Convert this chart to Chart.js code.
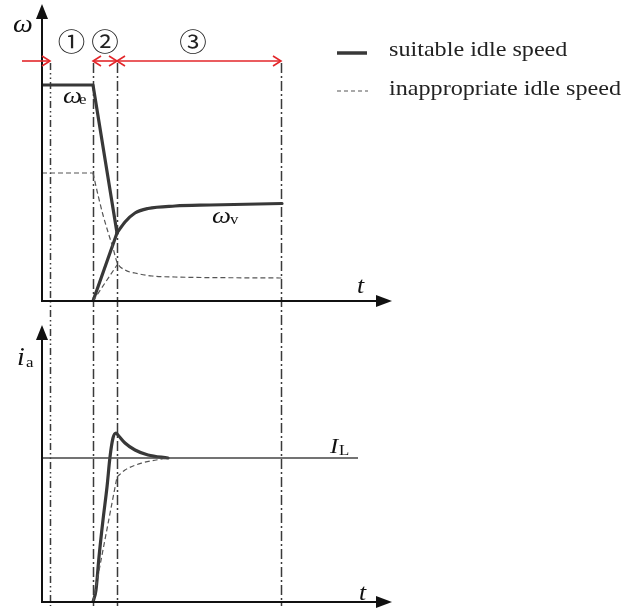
<!DOCTYPE html>
<html><head><meta charset="utf-8">
<script src="https://cdn.jsdelivr.net/npm/chart.js@4/dist/chart.umd.min.js"></script>
<style>
html,body{margin:0;padding:0;background:#fff;overflow:hidden}
#wrap{position:relative;width:643px;height:615px;background:#fff}
canvas{position:absolute;left:0;top:0}
</style></head>
<body><div id="wrap"><canvas id="topc" width="643" height="615"></canvas><canvas id="botc" width="643" height="615"></canvas></div>
<script>
// ---- data (abstract time / value units) ----
const phaseBounds = [8, 51, 75, 239];
const phaseLabels = ['①', '②', '③'];
const omegaE = [[0,216],[51,216],[75,68]];
const omegaVRise = [[51,0],[75,68]];
const omegaVSettle = [[75,68],[83,79],[93,88],[106,92.5],[133,95],[168,96],[240,97.5]];
const omegaEPoorHold = [[0,128],[51,128]];
const omegaEPoorFall = [[51,128],[56,106],[61,86],[66,69],[71,53],[75,39],[83,31],[93,28],[110,25],[133,24],[240,23]];
const omegaVPoor = [[51,0],[75,36]];
const iaSuitable = [[51,0],[54,12],[57,45],[61,82],[65,115],[68,145],[71,164],[74,169],[76,167],[83,159],[93,152],[106,147],[126,144]];
const iaPoorRise = [[51,0],[75,125]];
const iaPoorSettle = [[75,125],[83,132],[100,139],[126,144]];
const loadCurrent = [[0,144],[316,144]];
const legendLabels = ['suitable idle speed', 'inappropriate idle speed'];

const SOLID = '#383838', DASH = '#555';
const pts = a => a.map(p => ({x:p[0], y:p[1]}));
function solid(a, mono){ return {data:pts(a), borderColor:SOLID, borderWidth:3.2, pointRadius:0, tension:0, cubicInterpolationMode: mono?'monotone':'default', borderCapStyle:'round', borderJoinStyle:'round', fill:false}; }
function dashed(a, mono){ return {data:pts(a), borderColor:DASH, borderWidth:1.2, borderDash:[5,3], pointRadius:0, tension:0, cubicInterpolationMode: mono?'monotone':'default', fill:false}; }

function opts(padTop, padBottom, yMax){
  return {responsive:false, animation:false, devicePixelRatio:1,
    layout:{padding:{left:42,right:251,top:padTop,bottom:padBottom}},
    plugins:{legend:{display:false}, tooltip:{enabled:false}},
    scales:{x:{type:'linear',min:0,max:350,display:false}, y:{type:'linear',min:0,max:yMax,display:false}},
    elements:{point:{radius:0}}};
}

function txt(ctx, s, x, y, font, hs, color){
  ctx.save(); ctx.font = font; ctx.fillStyle = color || '#111'; ctx.textBaseline = 'alphabetic';
  ctx.translate(x, y); ctx.scale(hs || 1.12, 1); ctx.fillText(s, 0, 0); ctx.restore();
}
function axes(ctx, a){
  ctx.save(); ctx.strokeStyle = '#111'; ctx.fillStyle = '#111'; ctx.lineWidth = 2; ctx.setLineDash([]);
  ctx.beginPath(); ctx.moveTo(a.left, a.bottom + 1); ctx.lineTo(a.left, a.top + 12); ctx.stroke();
  ctx.beginPath(); ctx.moveTo(a.left, a.top); ctx.lineTo(a.left - 6, a.top + 15); ctx.lineTo(a.left + 6, a.top + 15); ctx.closePath(); ctx.fill();
  ctx.beginPath(); ctx.moveTo(a.left - 1, a.bottom); ctx.lineTo(a.right - 12, a.bottom); ctx.stroke();
  ctx.beginPath(); ctx.moveTo(a.right, a.bottom); ctx.lineTo(a.right - 16, a.bottom - 6); ctx.lineTo(a.right - 16, a.bottom + 6); ctx.closePath(); ctx.fill();
  ctx.restore();
}
function head(ctx, x, y, dir){
  ctx.beginPath(); ctx.moveTo(x - dir*8, y - 5); ctx.lineTo(x, y); ctx.lineTo(x - dir*8, y + 5); ctx.stroke();
}
const SERIF = '"Liberation Serif","Times New Roman",serif';

const topPlugin = {
  id:'topDeco',
  beforeDatasetsDraw(chart){
    const ctx = chart.ctx, xs = chart.scales.x;
    ctx.save(); ctx.strokeStyle = '#3a3a3a'; ctx.lineWidth = 1.5;
    phaseBounds.forEach((b, i) => {
      const x = Math.round(xs.getPixelForValue(b)) + 0.5;
      ctx.setLineDash(i === 0 ? [7,3,1.5,3,1.5,3] : [10,3,2,3]);
      ctx.beginPath(); ctx.moveTo(x, 63); ctx.lineTo(x, 606); ctx.stroke();
    });
    ctx.restore();
  },
  afterDraw(chart){
    const ctx = chart.ctx, a = chart.chartArea, xs = chart.scales.x;
    axes(ctx, a);
    // phase arrows
    const px = phaseBounds.map(b => xs.getPixelForValue(b));
    const ay = 61;
    ctx.save(); ctx.strokeStyle = '#e3262a'; ctx.lineWidth = 1.6; ctx.setLineDash([]);
    ctx.beginPath(); ctx.moveTo(a.left - 20, ay); ctx.lineTo(px[0], ay); ctx.stroke(); head(ctx, px[0], ay, 1);
    for (let i = 1; i < 3; i++){
      ctx.beginPath(); ctx.moveTo(px[i], ay); ctx.lineTo(px[i+1], ay); ctx.stroke();
      head(ctx, px[i], ay, -1); head(ctx, px[i+1], ay, 1);
    }
    ctx.restore();
    // circled phase numbers
    ctx.save(); ctx.font = '25px "Noto Sans CJK SC","DejaVu Sans",sans-serif'; ctx.fillStyle = '#222';
    ctx.textAlign = 'center'; ctx.textBaseline = 'middle';
    phaseLabels.forEach((s, i) => {
      const cx = (px[i] + px[i+1]) / 2 - (i === 2 ? 6 : 0);
      ctx.save(); ctx.translate(cx, 41); ctx.scale(1.1, 1); ctx.fillText(s, 0, 0); ctx.restore();
    });
    ctx.restore();
    // symbols
    txt(ctx, 'ω', 13, 32, 'italic 25px ' + SERIF, 1.12);
    txt(ctx, 'ω', 63, 103, 'italic 24px ' + SERIF, 1.12);
    txt(ctx, 'e', 79, 104, '15px ' + SERIF, 1.12);
    txt(ctx, 'ω', 212, 223, 'italic 24px ' + SERIF, 1.12);
    txt(ctx, 'v', 230, 224, '15px ' + SERIF, 1.12);
    txt(ctx, 't', 357, 293, 'italic 23px ' + SERIF, 1.12);
    // legend
    ctx.save(); ctx.strokeStyle = SOLID; ctx.lineWidth = 3.5;
    ctx.beginPath(); ctx.moveTo(337, 53); ctx.lineTo(367, 53); ctx.stroke();
    ctx.strokeStyle = DASH; ctx.lineWidth = 1.2; ctx.setLineDash([4,3]);
    ctx.beginPath(); ctx.moveTo(337, 91); ctx.lineTo(368, 91); ctx.stroke();
    ctx.restore();
    txt(ctx, legendLabels[0], 389, 56, '21px ' + SERIF, 1.15, '#222');
    txt(ctx, legendLabels[1], 389, 94.5, '21px ' + SERIF, 1.15, '#222');
  }
};

const botPlugin = {
  id:'botDeco',
  afterDraw(chart){
    const ctx = chart.ctx, a = chart.chartArea;
    axes(ctx, a);
    txt(ctx, 'i', 17, 365, 'italic 25px ' + SERIF, 1.12);
    txt(ctx, 'a', 26, 367, '15px ' + SERIF, 1.12);
    txt(ctx, 'I', 330, 453, 'italic 22px ' + SERIF, 1.12);
    txt(ctx, 'L', 339, 455, '15px ' + SERIF, 1.12);
    txt(ctx, 't', 359, 600, 'italic 23px ' + SERIF, 1.12);
  }
};

new Chart(document.getElementById('topc'), {
  type:'line',
  data:{datasets:[
    dashed(omegaEPoorHold), dashed(omegaEPoorFall, true), dashed(omegaVPoor),
    solid(omegaE), solid(omegaVRise), solid(omegaVSettle, true)
  ]},
  options:opts(4, 314, 297),
  plugins:[topPlugin]
});

const lc = {data:pts(loadCurrent), borderColor:'#444', borderWidth:1.5, pointRadius:0, tension:0, fill:false};
new Chart(document.getElementById('botc'), {
  type:'line',
  data:{datasets:[ lc, dashed(iaPoorRise), dashed(iaPoorSettle, true), solid(iaSuitable, true) ]},
  options:opts(325, 13, 277),
  plugins:[botPlugin]
});
</script></body></html>
